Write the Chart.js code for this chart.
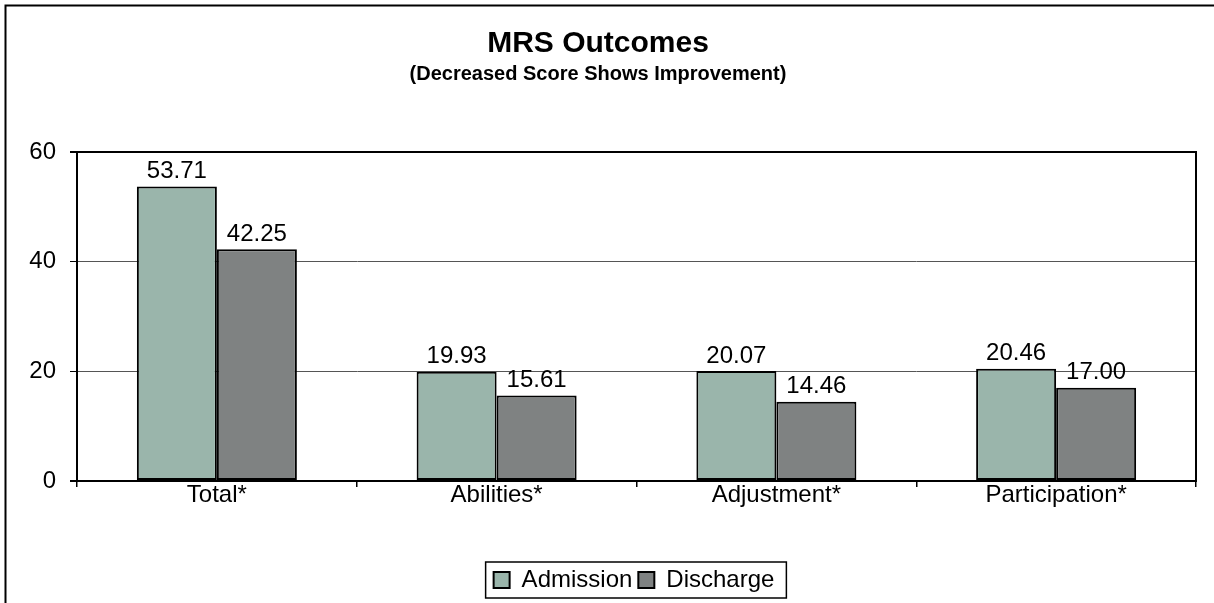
<!DOCTYPE html>
<html>
<head>
<meta charset="utf-8">
<script src="https://cdn.jsdelivr.net/npm/chart.js@4.4.1/dist/chart.umd.min.js"></script>
<style>
  html, body { margin: 0; padding: 0; background: #ffffff; }
  #wrap { position: relative; width: 1214px; height: 603px; }
  canvas { display: block; }
</style>
</head>
<body>
<div id="wrap"><canvas id="c" width="1214" height="603"></canvas></div>
<script>
const categories = ['Total*', 'Abilities*', 'Adjustment*', 'Participation*'];
const admission = [53.71, 19.93, 20.07, 20.46];
const discharge = [42.25, 15.61, 14.46, 17.00];
const yTicks = [0, 20, 40, 60];
const seriesNames = ['Admission', 'Discharge'];
const titleText = 'MRS Outcomes';
const subtitleText = '(Decreased Score Shows Improvement)';

const FONT = '"Liberation Sans", Arial, Helvetica, sans-serif';
const LEGEND_SHIFT = 36;

const frameAndLabels = {
  id: 'frameAndLabels',
  afterLayout(chart) {
    const lg = chart.legend;
    if (lg) {
      lg.left += LEGEND_SHIFT;
      lg.right += LEGEND_SHIFT;
      if (lg.legendHitBoxes) lg.legendHitBoxes.forEach(h => { h.left += LEGEND_SHIFT; });
    }
  },
  afterDraw(chart) {
    const ctx = chart.ctx;
    const a = chart.chartArea;
    ctx.save();
    // outer frame (top & left visible)
    ctx.strokeStyle = '#000';
    ctx.lineWidth = 2;
    ctx.beginPath();
    ctx.moveTo(5.5, 603);
    ctx.lineTo(5.5, 5.5);
    ctx.lineTo(1214, 5.5);
    ctx.stroke();
    // plot border
    ctx.lineWidth = 2;
    ctx.strokeRect(a.left, a.top, a.right - a.left, a.bottom - a.top);
    // data labels
    ctx.fillStyle = '#000';
    ctx.font = '24px ' + FONT;
    ctx.textAlign = 'center';
    ctx.textBaseline = 'bottom';
    chart.data.datasets.forEach((ds, di) => {
      const meta = chart.getDatasetMeta(di);
      meta.data.forEach((bar, i) => {
        ctx.fillText(Number(ds.data[i]).toFixed(2), bar.x, bar.y - 3);
      });
    });
    // legend border
    const lg = chart.legend;
    if (lg && lg.legendHitBoxes && lg.legendHitBoxes.length) {
      let l = Infinity, r = -Infinity, t = Infinity, b = -Infinity;
      lg.legendHitBoxes.forEach(h => {
        l = Math.min(l, h.left); r = Math.max(r, h.left + h.width);
        t = Math.min(t, h.top); b = Math.max(b, h.top + h.height);
      });
      ctx.lineWidth = 1.5;
      ctx.strokeRect(l - 8, t - 6, (r - l) + 20, (b - t) + 12);
    }
    ctx.restore();
  }
};

new Chart(document.getElementById('c'), {
  type: 'bar',
  data: {
    labels: categories,
    datasets: [
      { label: seriesNames[0], data: admission, backgroundColor: '#9AB5AB', borderColor: '#000', borderWidth: 2 },
      { label: seriesNames[1], data: discharge, backgroundColor: '#7F8282', borderColor: '#000', borderWidth: 2 }
    ]
  },
  options: {
    responsive: false,
    animation: false,
    devicePixelRatio: 1,
    layout: { padding: { left: 0, right: 18, top: 0, bottom: 1 } },
    datasets: { bar: { categoryPercentage: 0.572, barPercentage: 1.0, borderSkipped: false } },
    plugins: {
      title: {
        display: true, text: titleText, color: '#000',
        font: { family: FONT, size: 30, weight: 'bold' },
        padding: { top: 26, bottom: 0 }
      },
      subtitle: {
        display: true, text: subtitleText, color: '#000',
        font: { family: FONT, size: 20, weight: 'bold' },
        padding: { top: 0, bottom: 66 }
      },
      legend: {
        position: 'bottom',
        labels: {
          color: '#000',
          font: { family: FONT, size: 24 },
          boxWidth: 16, boxHeight: 16, padding: 6
        }
      },
      tooltip: { enabled: false }
    },
    scales: {
      x: {
        grid: { display: true, drawOnChartArea: false, offset: true, color: '#000', tickLength: 6, lineWidth: 1.5 },
        border: { display: true, color: '#000', width: 2 },
        ticks: { color: '#000', font: { family: FONT, size: 24 }, padding: -6, maxRotation: 0 },
        afterFit(scale) { scale.height = 81; }
      },
      y: {
        min: 0, max: 60,
        afterBuildTicks(scale) { scale.ticks = yTicks.map(v => ({ value: v })); },
        grid: {
          color: ctx => (ctx.tick && (ctx.tick.value === 0 || ctx.tick.value === 60)) ? '#000' : '#555',
          lineWidth: ctx => (ctx.tick && (ctx.tick.value === 0 || ctx.tick.value === 60)) ? 2 : 1,
          tickColor: '#000', tickLength: 7, drawTicks: true
        },
        border: { display: true, color: '#000', width: 2 },
        ticks: { color: '#000', font: { family: FONT, size: 24 }, padding: 14 },
        afterFit(scale) { scale.width = 77; }
      }
    }
  },
  plugins: [frameAndLabels]
});
</script>
</body>
</html>
